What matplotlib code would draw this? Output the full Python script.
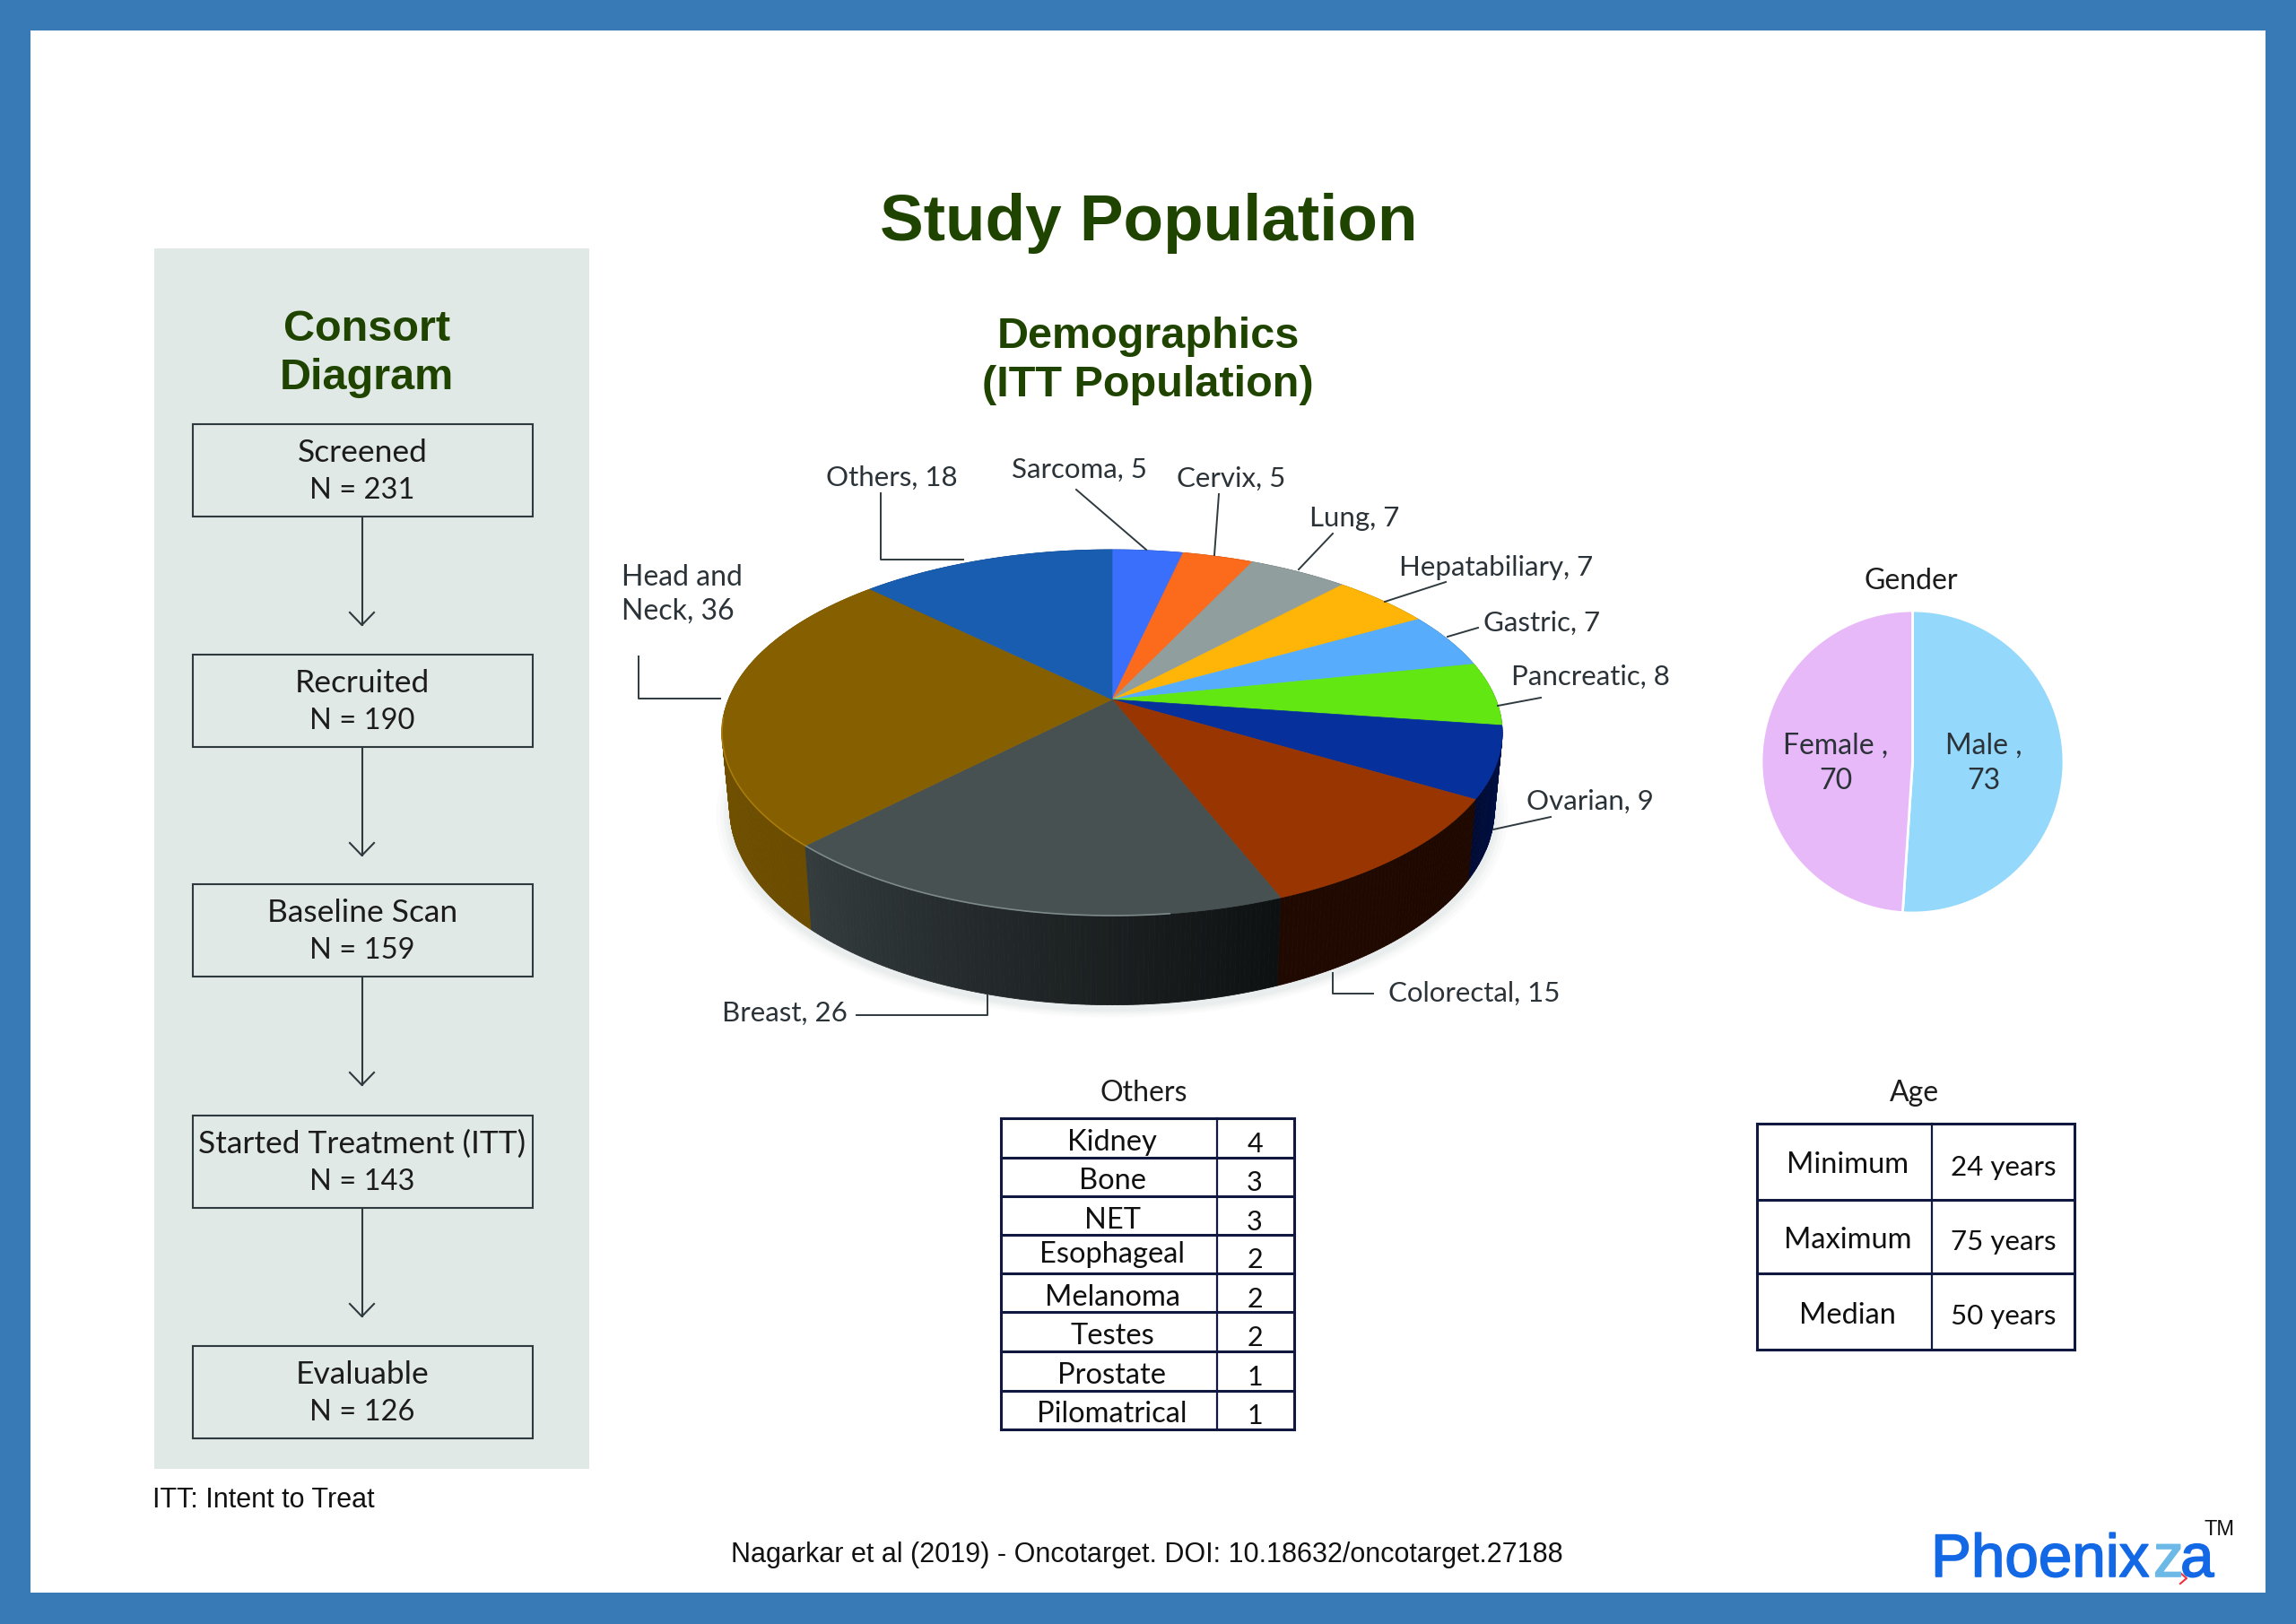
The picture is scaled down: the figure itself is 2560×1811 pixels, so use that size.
import matplotlib
matplotlib.use("Agg")
import matplotlib.pyplot as plt
import matplotlib.patheffects as pe
from matplotlib.colors import to_rgb
from matplotlib.patches import Rectangle
import numpy as np

# Data
consort_steps = ["Screened", "Recruited", "Baseline Scan", "Started Treatment (ITT)", "Evaluable"]
consort_n = [231, 190, 159, 143, 126]

tumour_names = ["Sarcoma", "Cervix", "Lung", "Hepatabiliary", "Gastric", "Pancreatic",
                "Ovarian", "Colorectal", "Breast", "Head and\nNeck", "Others"]
tumour_counts = [5, 5, 7, 7, 7, 8, 9, 15, 26, 36, 18]
tumour_colors = ["#3a6ffb", "#fc6a1b", "#919e9e", "#feb507", "#57adfc", "#62e713",
                 "#06309b", "#983500", "#475151", "#866000", "#185db0"]
# side wall colours, left and right end of each slice
side_from = ["#2a4a9a", "#a0440f", "#5c6565", "#a07205", "#35709f", "#3e930c",
             "#000a33", "#200900", "#343c3e", "#7a5700", "#10407a"]
side_to = ["#2a4a9a", "#a0440f", "#5c6565", "#a07205", "#35709f", "#3e930c",
           "#00134f", "#1e0800", "#0e1112", "#6b4c00", "#10407a"]

gender_names = ["Male", "Female"]
gender_counts = [73, 70]
gender_colors = ["#94d8fb", "#e8b9f9"]

others_names = ["Kidney", "Bone", "NET", "Esophageal", "Melanoma", "Testes", "Prostate", "Pilomatrical"]
others_counts = [4, 3, 3, 2, 2, 2, 1, 1]

age_names = ["Minimum", "Maximum", "Median"]
age_years = [24, 75, 50]

GREEN = "#1f4400"
FRAME = "#377ab5"
LINE = "#2f3a3f"
TEXT = "#2b3338"
NAVY = "#10183f"
FONT = "Lato"
ARIAL = "Liberation Sans"

W, H = 2560, 1811
fig = plt.figure(figsize=(W / 100, H / 100), dpi=100, facecolor="white")

# Gender pie goes in its own axes
left, right, top, bottom = 1964, 2301, 681, 1018
ax_gender = fig.add_axes([left / W, 1 - bottom / H, (right - left) / W, (bottom - top) / H])
ax_gender.pie(gender_counts, colors=gender_colors, startangle=90, counterclock=False, radius=1,
              wedgeprops={"edgecolor": "white", "linewidth": 2})
ax_gender.set_xlim(-1, 1)
ax_gender.set_ylim(-1, 1)

# Everything else in pixel coordinates, transparent so the pie stays visible
ax = fig.add_axes([0, 0, 1, 1], zorder=5)
ax.set_xlim(0, W)
ax.set_ylim(H, 0)
ax.axis("off")

# Blue frame
for x, y, w, h in [(0, 0, W, 34), (0, 1776, W, 35), (0, 0, 34, H), (2526, 0, 34, H)]:
    ax.add_patch(Rectangle((x, y), w, h, facecolor=FRAME, edgecolor="none"))


def label(x, y, s, size=23, color=TEXT, family=FONT, weight="normal", ha="center", va="center", **kw):
    # centred text sits a bit high in this font, so push it down
    if va == "center":
        y = y + 3
    return ax.text(x, y, s, fontsize=size, color=color, family=family, fontweight=weight, ha=ha, va=va, **kw)


label(1281, 246, "Study Population", size=52.5, color=GREEN, family=ARIAL, weight="bold")

# Consort panel
ax.add_patch(Rectangle((172, 277), 485, 1361, facecolor="#e1e9e6", edgecolor="none"))
label(409, 365, "Consort", size=35, color=GREEN, family=ARIAL, weight="bold")
label(409, 419, "Diagram", size=35, color=GREEN, family=ARIAL, weight="bold")

box_tops = [473, 730, 986, 1244, 1501]
for i, (step, n) in enumerate(zip(consort_steps, consort_n)):
    y = box_tops[i]
    ax.add_patch(Rectangle((215, y), 379, 103, facecolor="none", edgecolor=LINE, linewidth=1.5))
    label(404, y + 29, step, size=25.5, color="#1c1c1c")
    label(404, y + 71, "N = %d" % n, size=23.5, color="#1c1c1c")
    if i < len(box_tops) - 1:
        ax.plot([403.5, 403.5], [y + 105, y + 224], color=LINE, lw=1.5)
        ax.plot([390, 403.5, 417], [y + 210, y + 224, y + 210], color=LINE, lw=1.5)

label(170, 1670, "ITT: Intent to Treat", size=22, color="#111111", family=ARIAL, ha="left")

# Demographics
label(1280, 373, "Demographics", size=35, color=GREEN, family=ARIAL, weight="bold")
label(1280, 427, "(ITT Population)", size=35, color=GREEN, family=ARIAL, weight="bold")

# The 3D pie: a disc seen in perspective, hub is not at the ellipse centre
HUB_X, HUB_Y = 1240, 780
DISC_A, DISC_B, PERSP = 427.8, 197.3, 0.1814


def rim(theta):
    u, v = np.sin(theta), np.cos(theta)
    w = 1 + PERSP * v
    return HUB_X + DISC_A * u / w, HUB_Y - DISC_B * v / w


def lower(x, y):
    # same rim on the underside of the pie
    return HUB_X + 0.98 * (x - HUB_X), y + 90 + 0.073 * (y - 890)


edges = np.cumsum([0] + tumour_counts) / sum(tumour_counts) * 2 * np.pi

# soft shadow under the pie
all_t = np.linspace(0, 2 * np.pi, 361)
sx, sy = lower(*rim(all_t))
for grow, alpha in [(1.035, 0.03), (1.025, 0.04), (1.015, 0.05), (1.006, 0.06)]:
    ax.fill(HUB_X + grow * (sx - HUB_X), sy.mean() + grow * (sy - sy.mean()) + 6,
            color="#8f9d9d", alpha=alpha, lw=0, zorder=1)

# side walls, back to front
quads = []
for i in range(len(tumour_counts)):
    ts = np.linspace(edges[i], edges[i + 1], max(int((edges[i + 1] - edges[i]) * 90), 2))
    c_right = np.array(to_rgb(side_to[i]))
    c_left = np.array(to_rgb(side_from[i]))
    for j in range(len(ts) - 1):
        x0, y0 = rim(ts[j])
        x1, y1 = rim(ts[j + 1])
        x2, y2 = lower(x1, y1)
        x3, y3 = lower(x0, y0)
        f = j / max(len(ts) - 2, 1)
        quads.append((y0 + y1, [x0, x1, x2, x3], [y0, y1, y2, y3], c_right * (1 - f) + c_left * f))
quads.sort(key=lambda q: q[0])
for _, xs, ys, c in quads:
    ax.fill(xs, ys, color=c, lw=0.6, zorder=2)

# top of the pie
for i, color in enumerate(tumour_colors):
    ts = np.linspace(edges[i], edges[i + 1], 80)
    x, y = rim(ts)
    ax.fill(np.r_[HUB_X, x], np.r_[HUB_Y, y], color=color, lw=0.5, zorder=3)

# thin light edge at the front of the breast and head slices
x, y = rim(np.linspace(edges[8] + 0.25, edges[9], 50))
ax.plot(x, y, color="#7e8a8a", lw=1.2, zorder=4)
x, y = rim(np.linspace(edges[9], edges[9] + 0.7, 40))
ax.plot(x, y, color="#a87c0c", lw=1.2, zorder=4)

# labels of the pie with their leader lines
label_pos = [(1203, 521), (1373, 531), (1510, 575), (1668, 630), (1719, 692), (1773, 752),
             (1773, 891), (1644, 1105), (875, 1127), (693, 660), (994, 530)]
leaders = [[(1200, 546), (1278, 613)], [(1359, 551), (1354, 619)], [(1486, 595), (1448, 635)],
           [(1612, 649), (1544, 671)], [(1648, 700), (1614, 710)], [(1718, 778), (1670, 787)],
           [(1729, 911), (1665, 925)], [(1486, 1085), (1486, 1108), (1531, 1108)],
           [(1101, 1109), (1101, 1132), (955, 1132)], [(712, 732), (712, 779), (803, 779)],
           [(982, 550), (982, 624), (1074, 624)]]
for name, count, pos, line in zip(tumour_names, tumour_counts, label_pos, leaders):
    if "\n" in name:
        label(pos[0], pos[1], "%s, %d" % (name, count), ha="left", linespacing=1.3)
    else:
        label(pos[0], pos[1], "%s, %d" % (name, count), size=22.5)
    ax.plot([p[0] for p in line], [p[1] for p in line], color=LINE, lw=1.4, zorder=4)

# Gender
label(2131, 645, "Gender", color="#1c1c1c")
label(2212, 829, gender_names[0] + " ,", color=TEXT)
label(2212, 868, str(gender_counts[0]), color=TEXT)
label(2047, 829, gender_names[1] + " ,", color=TEXT)
label(2047, 868, str(gender_counts[1]), color=TEXT)

# Others table
label(1275, 1216, "Others", color="#1c1c1c")
rows_y = [1247, 1291, 1334, 1377, 1420, 1463, 1507, 1551, 1594]
name_shift = [1, 1, 1, -4, 1, 1, 1, 1]
for y in rows_y:
    ax.plot([1116, 1443], [y, y], color=NAVY, lw=2.2)
for x in [1116, 1357, 1443]:
    ax.plot([x, x], [rows_y[0], rows_y[-1]], color=NAVY, lw=2.2 if x != 1357 else 1.6)
for i, (name, count) in enumerate(zip(others_names, others_counts)):
    mid = (rows_y[i] + rows_y[i + 1]) / 2
    label(1240, mid + 1 + name_shift[i], name, size=23.5, color="#101010")
    label(1399, mid + 4, str(count), size=22, color="#101010")

# Age table
label(2134, 1216, "Age", color="#1c1c1c")
age_rows = [1253, 1338, 1420, 1505]
for y in age_rows:
    ax.plot([1959, 2313], [y, y], color=NAVY, lw=2.2)
for x in [1959, 2154, 2313]:
    ax.plot([x, x], [age_rows[0], age_rows[-1]], color=NAVY, lw=2.2 if x != 2154 else 1.6)
for i, (name, years) in enumerate(zip(age_names, age_years)):
    mid = (age_rows[i] + age_rows[i + 1]) / 2
    label(2060, mid + 1, name, size=23.5, color="#101010")
    label(2234, mid + 3, "%d years" % years, size=22.5, color="#101010")

# Footer and logo
label(1279, 1731, "Nagarkar et al (2019) - Oncotarget. DOI: 10.18632/oncotarget.27188",
      size=22, color="#111111", family=ARIAL)
logo_parts = [(2153, "Phoenix", "#1368e6"), (2401, "z", "#6cb8e6"), (2431, "a", "#1368e6")]
for x, part, color in logo_parts:
    t = label(x, 1758, part, size=48.5, color=color, family=ARIAL, ha="left", va="baseline")
    t.set_path_effects([pe.withStroke(linewidth=1.2, foreground=color)])
ax.plot([2431, 2438, 2431], [1754, 1760, 1766], color="#f0303c", lw=1.5)
label(2457, 1703, "TM", size=17, color="#111111", family=ARIAL, ha="left")

fig.savefig("out.png", dpi=100)
